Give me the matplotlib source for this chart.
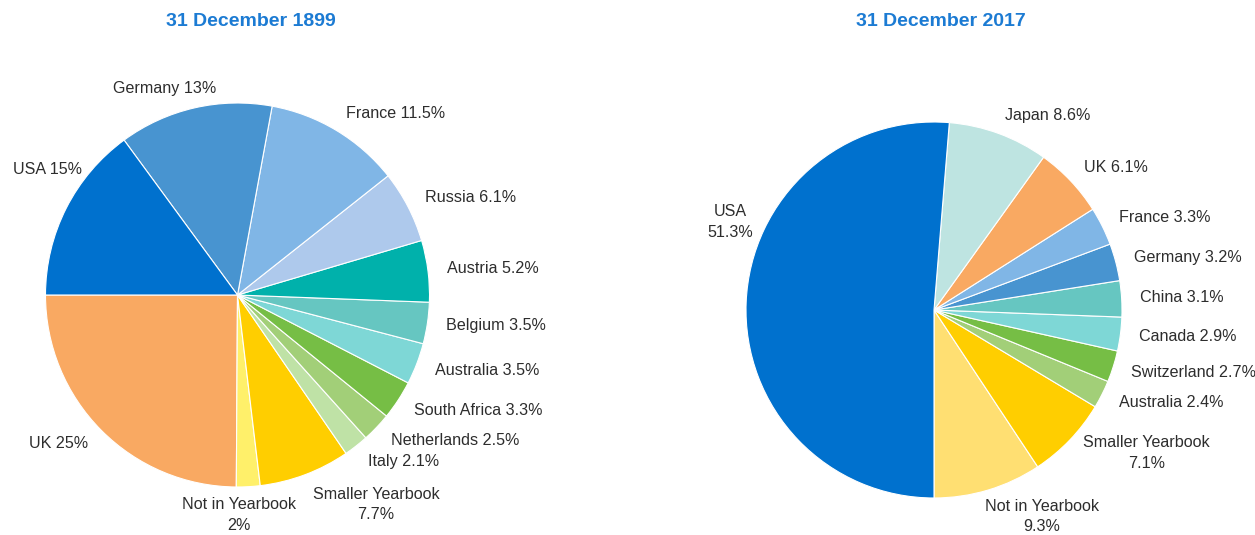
import matplotlib
matplotlib.use("Agg")
import matplotlib.pyplot as plt
import numpy as np

# ---------------- data ----------------
title_1899 = "31 December 1899"
labels_1899 = ["UK", "Not in Yearbook", "Smaller Yearbook", "Italy", "Netherlands",
               "South Africa", "Australia", "Belgium", "Austria", "Russia",
               "France", "Germany", "USA"]
values_1899 = [25, 2, 7.7, 2.1, 2.5, 3.3, 3.5, 3.5, 5.2, 6.1, 11.5, 13, 15]
pct_text_1899 = ["25%", "2%", "7.7%", "2.1%", "2.5%", "3.3%", "3.5%", "3.5%",
                 "5.2%", "6.1%", "11.5%", "13%", "15%"]
colors_1899 = ["#F9A962", "#FFF06A", "#FFCE00", "#BFE2A6", "#A2CF78",
               "#76BE45", "#7ED7D6", "#66C6C1", "#00B1AB", "#AEC9EC",
               "#80B6E6", "#4894D0", "#0071CE"]

title_2017 = "31 December 2017"
labels_2017 = ["Not in Yearbook", "Smaller Yearbook", "Australia", "Switzerland",
               "Canada", "China", "Germany", "France", "UK", "Japan", "USA"]
values_2017 = [9.3, 7.1, 2.4, 2.7, 2.9, 3.1, 3.2, 3.3, 6.1, 8.6, 51.3]
pct_text_2017 = ["9.3%", "7.1%", "2.4%", "2.7%", "2.9%", "3.1%", "3.2%", "3.3%",
                 "6.1%", "8.6%", "51.3%"]
colors_2017 = ["#FFDF72", "#FFCE00", "#A2CF78", "#76BE45", "#7ED7D6",
               "#66C6C1", "#4894D0", "#80B6E6", "#F9A962", "#BEE4E1", "#0071CE"]

# ---------------- layout / style ----------------
W, H = 1255, 535
TEXT_COLOR = "#2d2d2d"
TITLE_COLOR = "#1C7BD3"
FONT = ["Liberation Sans", "DejaVu Sans"]
FS = 11.6

# label layout: name -> (angle_deg or None for wedge middle, distance factor, ha, two_line)
layout_1899 = {
    "USA": (141.1, 1.04, "right", False),
    "Germany": (109.4, 1.14, "center", False),
    "Not in Yearbook": (270.3, 1.145, "center", True),
    "Smaller Yearbook": (289.7, 1.16, "left", True),
}
layout_2017 = {
    "USA": (154.1, 1.07, "right", True),
    "Not in Yearbook": (283.8, 1.13, "left", True),
    "Smaller Yearbook": (None, 1.1, "left", True),
}

fig = plt.figure(figsize=(W / 100, H / 100), dpi=100)


def make_axes(cx, cy, r):
    ax = fig.add_axes([(cx - r) / W, (H - cy - r) / H, 2 * r / W, 2 * r / H])
    return ax


def draw_pie(ax, values, labels, pcts, colors, start, layout):
    wedges, _ = ax.pie(values, colors=colors, startangle=start, counterclock=True,
                       radius=1, wedgeprops=dict(edgecolor="white", linewidth=0.8))
    ax.set_xlim(-1, 1)
    ax.set_ylim(-1, 1)
    ax.set_aspect("equal")
    ax.axis("off")
    for w, lab, p in zip(wedges, labels, pcts):
        mid = 0.5 * (w.theta1 + w.theta2)
        ang, k, ha, two = mid, 1.1, None, False
        if lab in layout:
            a2, k, ha, two = layout[lab]
            if a2 is not None:
                ang = a2
        th = np.deg2rad(ang)
        x, y = k * np.cos(th), k * np.sin(th)
        if ha is None:
            ha = "left" if np.cos(th) >= 0 else "right"
        txt = f"{lab}\n{p}" if two else f"{lab} {p}"
        ax.text(x, y, txt, ha=ha, va="center", multialignment="center",
                fontsize=FS, color=TEXT_COLOR, family=FONT, clip_on=False,
                linespacing=1.45)


ax1 = make_axes(237.5, 295, 192)
draw_pie(ax1, values_1899, labels_1899, pct_text_1899, colors_1899, 180, layout_1899)

ax2 = make_axes(934, 310, 188)
draw_pie(ax2, values_2017, labels_2017, pct_text_2017, colors_2017, 270, layout_2017)

fig.text(251 / W, 1 - 21 / H, title_1899, ha="center", va="center", fontsize=14,
         fontweight="bold", color=TITLE_COLOR, family=FONT)
fig.text(941 / W, 1 - 21 / H, title_2017, ha="center", va="center", fontsize=14,
         fontweight="bold", color=TITLE_COLOR, family=FONT)

fig.savefig("out.png", dpi=100)
